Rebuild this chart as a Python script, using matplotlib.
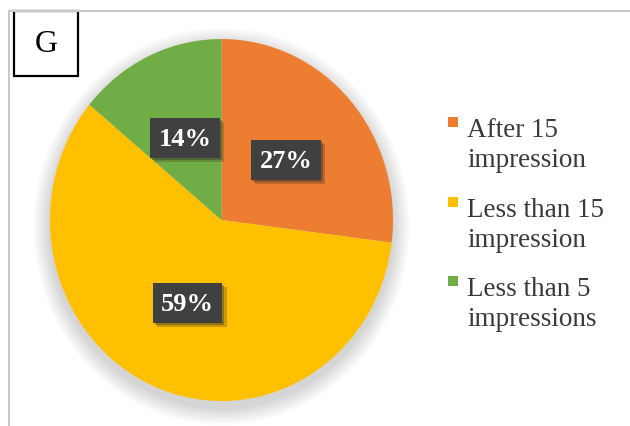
import numpy as np
import matplotlib.pyplot as plt
from matplotlib.patches import Ellipse, Rectangle
from matplotlib.lines import Line2D
import matplotlib.patheffects as pe

plt.rcParams['font.family'] = ['Liberation Serif', 'DejaVu Serif']

# share of respondents by number of impressions
labels = ['After 15\nimpression', 'Less than 15\nimpression', 'Less than 5\nimpressions']
shares = [27, 59, 14]
colors = ['#ED7D31', '#FFC000', '#70AD47']
panel = 'G'

W, H = 630, 427
fig = plt.figure(figsize=(W / 100, H / 100), dpi=100)
fig.patch.set_facecolor('white')

# thin grey frame along top and left
fig.add_artist(Line2D([9 / W, 1], [1 - 12 / H, 1 - 12 / H], color='#c8c8c8', lw=1.5))
fig.add_artist(Line2D([9 / W, 9 / W], [0, 1 - 12 / H], color='#c8c8c8', lw=1.5))

# pie axes (slightly taller than wide)
ax = fig.add_axes([50 / W, 25 / H, 343 / W, 362 / H])

# soft glow behind the pie
for i in range(14):
    r = 1.0 + 0.007 * (i + 1)
    ax.add_patch(Ellipse((0.0, -0.035), 2 * r, 2 * r, color='black',
                         alpha=0.013, lw=0, zorder=0, clip_on=False))

wedges, texts, autotexts = ax.pie(
    shares, colors=colors, startangle=90, counterclock=False,
    autopct=lambda p: f'{p:.0f}%', pctdistance=0.5,
    wedgeprops=dict(linewidth=0))
for w in wedges:
    w.set_zorder(2)
ax.set_aspect('auto')
ax.set_xlim(-1, 1)
ax.set_ylim(-1, 1)
ax.axis('off')

for t in autotexts:
    t.set_color('white')
    t.set_fontsize(19)
    t.set_fontweight('bold')
    t.set_zorder(5)
    t.set_bbox(dict(boxstyle='square,pad=0.32', facecolor='#404040', edgecolor='none'))
    t.get_bbox_patch().set_path_effects(
        [pe.SimplePatchShadow(offset=(3, -3), shadow_rgbFace='#4a3f20', alpha=0.3),
         pe.SimplePatchShadow(offset=(1.5, -1.5), shadow_rgbFace='#2a2a2a', alpha=0.35),
         pe.Normal()])

# panel letter in a box
fig.add_artist(Rectangle((14 / W, 1 - 77 / H), 64 / W, 65 / H, transform=fig.transFigure,
                         facecolor='white', edgecolor='black', lw=1.6))
fig.text(46 / W, 1 - 44 / H, panel, fontsize=23, ha='center', va='center', color='black')

# legend drawn by hand so the swatch sits on the first line
first_baseline = [137, 217, 296]
line_gap = 30
for lab, col, y in zip(labels, colors, first_baseline):
    fig.add_artist(Rectangle((448 / W, 1 - (y - 9) / H), 10 / W, 10 / H,
                             transform=fig.transFigure, facecolor=col, edgecolor='none'))
    for k, line in enumerate(lab.split('\n')):
        fig.text(467 / W, 1 - (y + k * line_gap) / H, line, fontsize=19.5, color='#3a3a3a',
                 ha='left', va='baseline')

fig.savefig('out.png', dpi=100)
